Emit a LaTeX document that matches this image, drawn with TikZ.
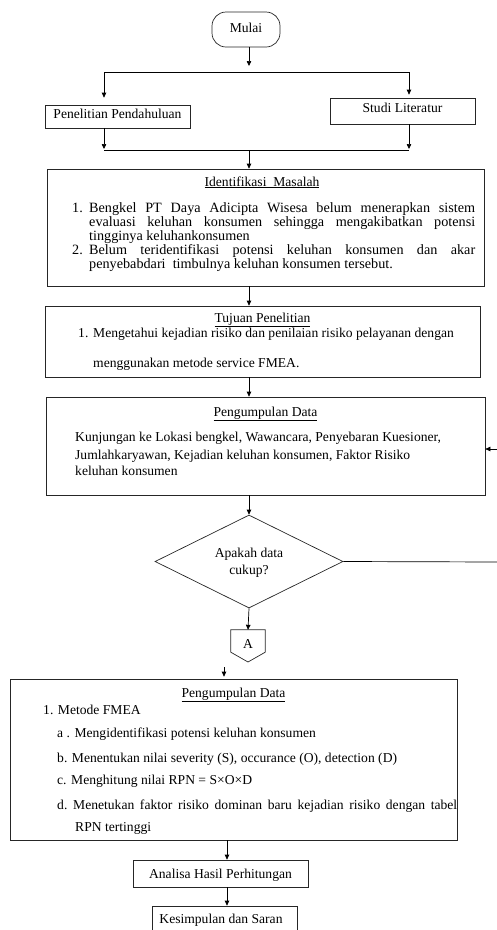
\documentclass[tikz,border=0pt]{standalone}
\usepackage{fontspec}
\setmainfont{Liberation Serif}
\usetikzlibrary{arrows.meta,shapes.geometric}
\newcommand{\myfs}{\fontsize{13.6}{14}\selectfont}
\newcommand{\bigfs}{\fontsize{14.2}{14}\selectfont}
\tikzset{
  x=1pt, y=-1pt,
  box/.style={draw=black!85, line width=0.7pt, inner sep=0pt},
  arr/.style={-{Triangle[length=5pt,width=4.5pt]}, line width=0.7pt, draw=black},
  ln/.style={line width=0.7pt, draw=black},
  txt/.style={inner sep=0pt, anchor=base west, font=\myfs},
  btxt/.style={inner sep=0pt, anchor=base west, font=\bigfs},
  ctxt/.style={inner sep=0pt, anchor=base, font=\myfs, align=center},
}
\begin{document}
\begin{tikzpicture}
\useasboundingbox (0,0) rectangle (497,930);
% ---- Mulai
\node[box, rounded corners=14pt, minimum width=68pt, minimum height=35pt] (mulai) at (246,29.5) {};
\node[ctxt] (tmulai) at (246,32) {Mulai};
\coordinate (mEnd) at (249,66);
\coordinate (sL) at (104,72);
\coordinate (sR) at (409,72);
% ---- Penelitian / Studi
\node[box, minimum width=145pt, minimum height=23pt] (pp) at (117.5,116.5) {};
\node[ctxt] (tpp) at (117.5,118) {Penelitian Pendahuluan};
\node[box, minimum width=145pt, minimum height=26pt] (sl) at (402.5,111) {};
\node[ctxt] (tsl) at (402.5,112) {Studi Literatur};
\coordinate (jL) at (104,150);
\coordinate (jR) at (409,150);
\coordinate (jM) at (249,150);
% ---- Identifikasi Masalah
\node[box, minimum width=437pt, minimum height=117pt] (idm) at (265.5,227.5) {};
\node[ctxt] (tidm) at (262,186) {\underline{Identifikasi\ \ Masalah}};
\node[btxt] (n1) at (72,212) {1.};
\node[btxt] (l1) at (89,212) {\makebox[386pt][s]{Bengkel PT Daya Adicipta Wisesa belum menerapkan sistem}};
\node[btxt] (l2) at (89,226) {\makebox[386pt][s]{evaluasi keluhan konsumen sehingga mengakibatkan potensi}};
\node[btxt] (l3) at (89,240) {tingginya keluhankonsumen};
\node[btxt] (n2) at (72,254) {2.};
\node[btxt] (l4) at (89,254) {\makebox[386pt][s]{Belum teridentifikasi potensi keluhan konsumen dan akar}};
\node[btxt] (l5) at (89,268) {penyebabdari\ \ timbulnya keluhan konsumen tersebut.};
% ---- Tujuan Penelitian
\node[box, minimum width=435pt, minimum height=71pt] (tuj) at (262.5,341.5) {};
\node[ctxt] (ttuj) at (262.5,322) {\underline{Tujuan Penelitian}};
\node[txt] (t1n) at (78,337) {1.};
\node[txt] (t1) at (93,337) {Mengetahui kejadian risiko dan penilaian risiko pelayanan dengan};
\node[txt] (t2) at (93,367) {menggunakan metode service FMEA.};
% ---- Pengumpulan Data
\node[box, minimum width=439pt, minimum height=98pt] (pd) at (265.5,446) {};
\node[ctxt] (tpd) at (265.5,416) {\underline{Pengumpulan Data}};
\node[txt] (p1) at (75,441) {Kunjungan ke Lokasi bengkel, Wawancara, Penyebaran Kuesioner,};
\node[txt] (p2) at (75,459) {Jumlahkaryawan, Kejadian keluhan konsumen, Faktor Risiko};
\node[txt] (p3) at (75,475) {keluhan konsumen};
\coordinate (fbTop) at (499,449);
\coordinate (fbBot) at (499,562);
% ---- Decision
\node[draw=black!85, line width=0.7pt, shape=diamond, aspect=2.02, minimum width=188pt, minimum height=93pt, inner sep=0pt] (dm) at (249,561.5) {};
\node[ctxt] (tdm1) at (249,557) {Apakah data};
\node[ctxt] (tdm2) at (249,574) {cukup?};
% ---- Connector A
\node[minimum width=34pt, minimum height=22pt, inner sep=0pt] (A) at (248,641) {};
\draw[line width=0.7pt, draw=black!85] (A.north west) -- (A.north east) -- (A.south east) -- (248,662) -- (A.south west) -- cycle;
\node[ctxt] (tA) at (248,648) {A};
\coordinate (fa1) at (224,667);
% ---- FMEA box
\node[box, minimum width=447pt, minimum height=161pt] (fm) at (233.5,759.5) {};
\node[ctxt] (tfm) at (233.5,697) {\underline{Pengumpulan Data}};
\node[txt] (f1) at (43,714) {1. Metode FMEA};
\node[txt] (fa) at (57,737) {a . Mengidentifikasi potensi keluhan konsumen};
\node[txt] (fb) at (57,762) {b. Menentukan nilai severity (S), occurance (O), detection (D)};
\node[txt] (fc) at (57,784) {c. Menghitung nilai RPN = S×O×D};
\node[txt] (fdn) at (57,809) {d.};
\node[txt] (fd) at (73,809) {\makebox[384pt][s]{Menetukan faktor risiko dominan baru kejadian risiko dengan tabel}};
\node[txt] (fe) at (75,831) {RPN tertinggi};
% ---- Analisa / Kesimpulan
\node[box, minimum width=175pt, minimum height=27pt] (an) at (220.5,873.5) {};
\node[ctxt] (tan) at (220.5,878) {Analisa Hasil Perhitungan};
\node[box, minimum width=145pt, minimum height=32pt] (ks) at (224.5,922) {};
\node[ctxt] (tks) at (221,923) {Kesimpulan dan Saran};
\coordinate (ax) at (227,0);
% ---- connectors
\draw[arr] (mulai.south -| mEnd) -- (mEnd);
\draw[ln] (sL) -- (sR);
\draw[arr, shorten >=7pt] (sL) -- (pp.north -| sL);
\draw[arr, shorten >=3pt] (sR) -- (sl.north -| sR);
\draw[arr, shorten >=1pt] (pp.south -| jL) -- (jL);
\draw[arr, shorten >=1pt] (sl.south -| jR) -- (jR);
\draw[ln] (jL) -- (jR);
\draw[arr] (jM) -- (idm.north -| jM);
\draw[arr] (idm.south -| jM) -- (tuj.north -| jM);
\draw[arr] (tuj.south -| dm) -- (pd.north -| dm);
\draw[arr] (pd.south -| dm) -- (dm.north);
\draw[ln] (dm.east) -- (fbBot) -- (fbTop);
\draw[arr] (fbTop) -- (fbTop -| pd.east);
\draw[arr] (dm.south) -- (A.north);
\draw[arr, shorten >=2pt] (fa1) -- (fm.north -| fa1);
\draw[arr] (fm.south -| ax) -- (an.north -| ax);
\draw[arr] (an.south -| ax) -- (ks.north -| ax);
\end{tikzpicture}
\end{document}
